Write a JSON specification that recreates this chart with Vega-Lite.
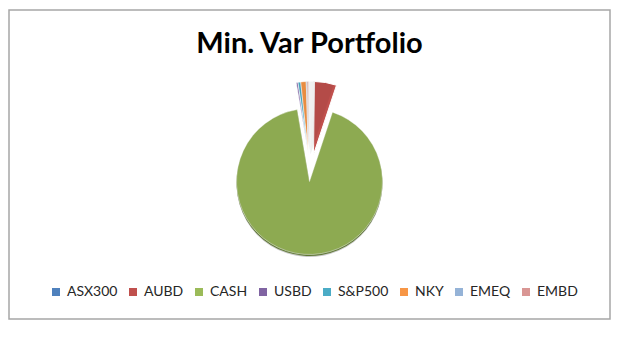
{
  "$schema": "https://vega.github.io/schema/vega-lite/v6.json",
  "width": 601,
  "height": 309,
  "autosize": "none",
  "padding": {"left": 9, "top": 10, "right": 13, "bottom": 18},
  "background": "white",
  "title": {"text": "Min. Var Portfolio", "font": "Lato", "fontSize": 29, "fontWeight": "bold", "color": "#000000", "anchor": "middle", "baseline": "alphabetic", "offset": -73},
  "data": {"values": [
    {"asset": "ASX300", "order": 1, "weight": 0.2},
    {"asset": "AUBD", "order": 2, "weight": 4.9},
    {"asset": "CASH", "order": 3, "weight": 92.2},
    {"asset": "USBD", "order": 4, "weight": 0.4},
    {"asset": "S&P500", "order": 5, "weight": 0.6},
    {"asset": "NKY", "order": 6, "weight": 1.2},
    {"asset": "EMEQ", "order": 7, "weight": 0.2},
    {"asset": "EMBD", "order": 8, "weight": 0.3}
  ]},
  "transform": [
    {"stack": "weight", "groupby": [], "sort": [{"field": "order", "order": "ascending"}], "as": ["start", "end"]}
  ],
  "layer": [
    {
      "transform": [{"filter": "datum.order === 1"}],
      "mark": {"type": "rect", "fill": null, "stroke": "#a6a6a6", "strokeWidth": 1.5},
      "encoding": {}
    },
    {
      "transform": [{"filter": "datum.asset === 'CASH'"}],
      "mark": {"type": "arc", "radius": 73, "yOffset": 19.5, "fill": "#c8c8c8"},
      "encoding": {
        "theta": {"field": "start", "type": "quantitative", "scale": {"domain": [0, 100]}},
        "theta2": {"field": "end"}
      }
    },
    {
      "transform": [{"filter": "datum.asset === 'CASH'"}],
      "mark": {"type": "arc", "radius": 73, "yOffset": 18.5, "fill": "#5f7834"},
      "encoding": {
        "theta": {"field": "start", "type": "quantitative", "scale": {"domain": [0, 100]}},
        "theta2": {"field": "end"}
      }
    },
    {
      "transform": [{"filter": "datum.asset === 'CASH'"}],
      "mark": {"type": "arc", "radius": 73, "yOffset": 17, "stroke": "white", "strokeWidth": 0.5},
      "encoding": {
        "theta": {"field": "start", "type": "quantitative", "scale": {"domain": [0, 100]}},
        "theta2": {"field": "end"},
        "color": {
          "field": "asset", "type": "nominal",
          "scale": {
            "domain": ["ASX300", "AUBD", "CASH", "USBD", "S&P500", "NKY", "EMEQ", "EMBD"],
            "range": ["#4F81BD", "#C0504D", "#9BBB59", "#8064A2", "#4BACC6", "#F79646", "#95B3D7", "#D99694"]
          },
          "legend": {
            "title": null, "orient": "none", "direction": "horizontal", "columns": 8,
            "legendX": 40, "legendY": 275,
            "symbolType": "square", "symbolSize": 64, "symbolStrokeWidth": 0,
            "labelFont": "Lato", "labelFontSize": 14, "labelColor": "#262626",
            "columnPadding": 8, "labelOffset": 4
          }
        }
      }
    },
    {
      "transform": [{"filter": "datum.asset === 'CASH'"}],
      "mark": {"type": "arc", "radius": 73, "yOffset": 17, "fill": "#000000", "opacity": 0.09},
      "encoding": {
        "theta": {"field": "start", "type": "quantitative", "scale": {"domain": [0, 100]}},
        "theta2": {"field": "end"}
      }
    },
    {
      "transform": [{"filter": "datum.asset === 'AUBD' || datum.asset === 'ASX300'"}],
      "mark": {"type": "arc", "radius": 73, "xOffset": 4, "yOffset": -10, "stroke": "white", "strokeWidth": 1},
      "encoding": {
        "theta": {"field": "start", "type": "quantitative", "scale": {"domain": [0, 100]}},
        "theta2": {"field": "end"},
        "color": {"field": "asset", "type": "nominal", "legend": null}
      }
    },
    {
      "transform": [{"filter": "datum.order > 3"}],
      "mark": {"type": "arc", "radius": 73, "xOffset": -1, "yOffset": -10, "stroke": "white", "strokeWidth": 0.6},
      "encoding": {
        "theta": {"field": "start", "type": "quantitative", "scale": {"domain": [0, 100]}},
        "theta2": {"field": "end"},
        "color": {"field": "asset", "type": "nominal", "legend": null}
      }
    },
    {
      "transform": [{"filter": "datum.order !== 3"}],
      "mark": {"type": "arc", "radius": 73, "xOffset": 1, "yOffset": -10, "fill": "#000000", "opacity": 0.06},
      "encoding": {
        "theta": {"field": "start", "type": "quantitative", "scale": {"domain": [0, 100]}},
        "theta2": {"field": "end"}
      }
    }
  ]
}
